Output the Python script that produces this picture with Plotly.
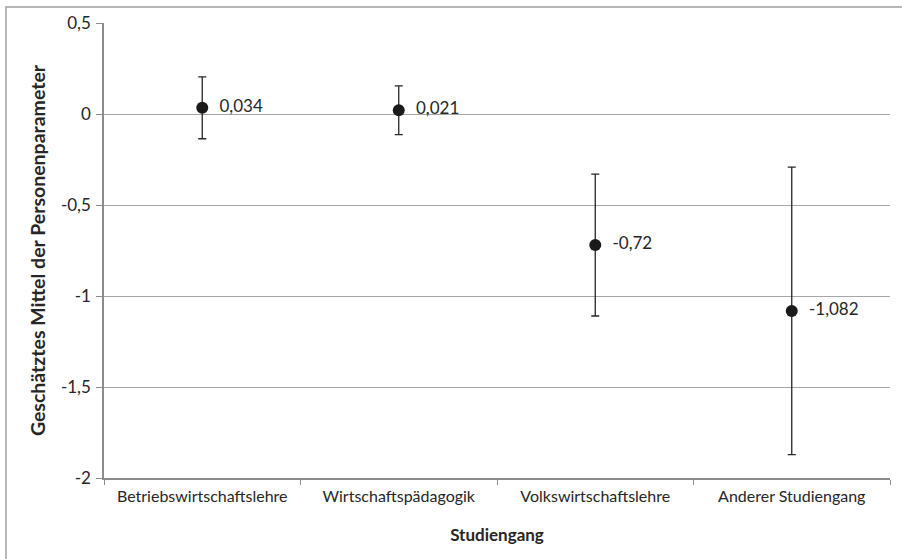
import plotly.graph_objects as go

categories = ["Betriebswirtschaftslehre", "Wirtschaftspädagogik", "Volkswirtschaftslehre", "Anderer Studiengang"]
means = [0.034, 0.021, -0.72, -1.082]
errors = [0.17, 0.134, 0.39, 0.79]
labels = ["0,034", "0,021", "-0,72", "-1,082"]
ytick_vals = [0.5, 0, -0.5, -1, -1.5, -2]
ytick_text = ["0,5", "0", "-0,5", "-1", "-1,5", "-2"]

FONT = "Lato, Calibri, Carlito, sans-serif"

fig = go.Figure()
fig.add_trace(go.Scatter(
    x=categories, y=means, mode="markers+text",
    text=["  " + t for t in labels], textposition="middle right",
    textfont=dict(family=FONT, size=17, color="#262626"),
    marker=dict(size=12, color="#1a1a1a"),
    error_y=dict(type="data", array=errors, visible=True, color="#262626", thickness=1.3, width=4),
    showlegend=False, cliponaxis=False,
))

fig.update_layout(
    width=902, height=559,
    margin=dict(l=104, r=12, t=23, b=81),
    paper_bgcolor="white", plot_bgcolor="white",
    font=dict(family=FONT, size=15, color="#262626"),
    xaxis=dict(
        type="category", range=[-0.5, 3.5], showgrid=False,
        showline=True, linecolor="#8c8c8c", linewidth=1.5,
        ticks="outside", tickson="boundaries", ticklen=5, tickcolor="#8c8c8c",
        ticklabelstandoff=3,
        tickfont=dict(family=FONT, size=16, color="#262626"),
        title=dict(text="<b>Studiengang</b>", font=dict(family=FONT, size=17, color="#262626"), standoff=25),
    ),
    yaxis=dict(
        range=[-2, 0.5], tickvals=ytick_vals, ticktext=ytick_text,
        showgrid=True, gridcolor="#a6a6a6", gridwidth=1.2, zeroline=False,
        showline=True, linecolor="#8c8c8c", linewidth=1.5,
        ticks="outside", ticklen=6, tickcolor="#8c8c8c",
        ticklabelstandoff=2,
        tickfont=dict(family=FONT, size=17, color="#262626"),
        title=dict(text="<b>Geschätztes Mittel der Personenparameter</b>", font=dict(family=FONT, size=19.5, color="#262626"), standoff=10),
    ),
    shapes=[dict(type="rect", xref="paper", yref="paper", x0=-0.1247, x1=1.2, y0=-0.4, y1=1.035,
                 line=dict(color="#a0a0a0", width=1.5), fillcolor="rgba(0,0,0,0)", layer="below")],
)

fig.write_html("out.html")
